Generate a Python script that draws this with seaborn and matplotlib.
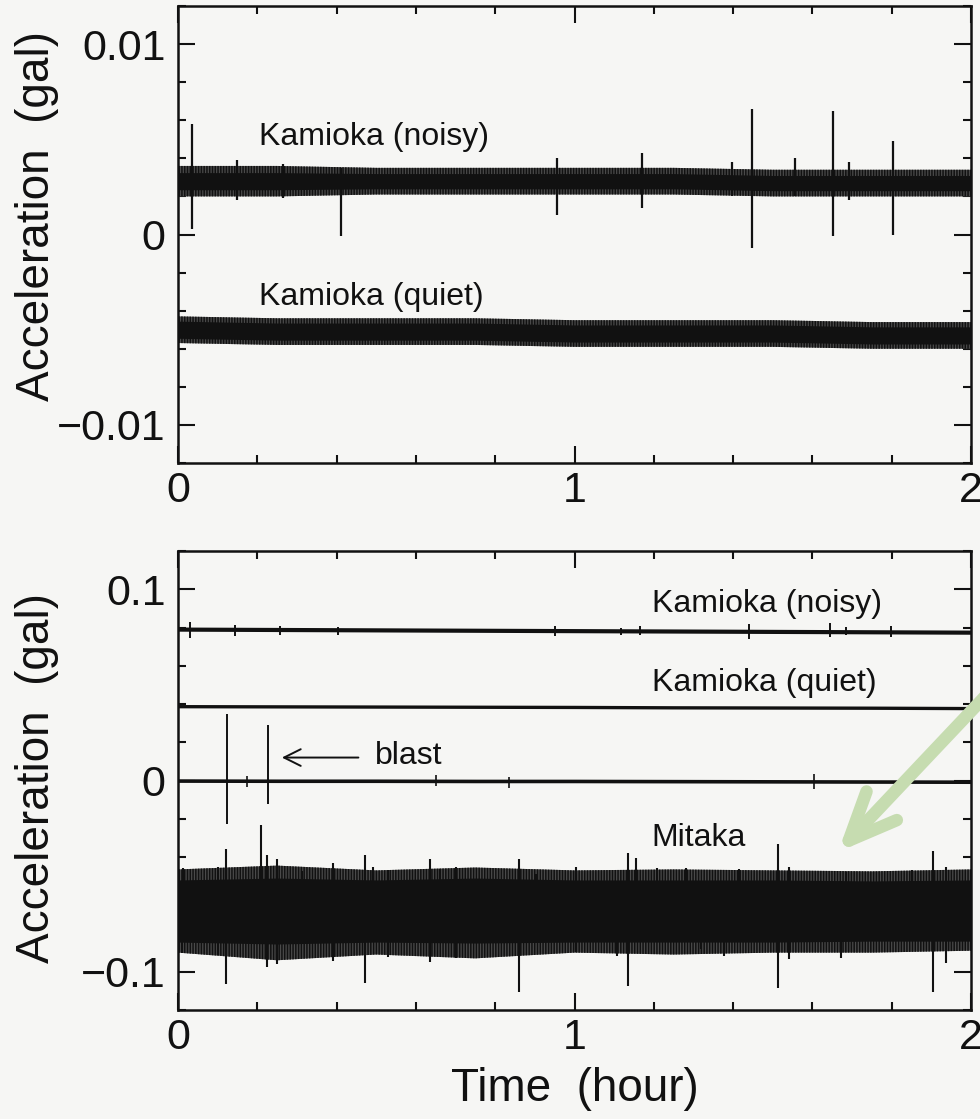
import numpy as np
import pandas as pd
import matplotlib
matplotlib.use("Agg")
import matplotlib.pyplot as plt
from matplotlib.ticker import MultipleLocator
import seaborn as sns

# ---------------- data ----------------
t_knots = [0.0, 0.25, 0.5, 0.75, 1.0, 1.25, 1.5, 1.75, 2.0]

# top panel: Kamioka (noisy) band
top_noisy_center = [0.0028, 0.0028, 0.0028, 0.0028, 0.0028, 0.0028, 0.0027, 0.0027, 0.0027]
top_noisy_inner = [0.00045, 0.00045, 0.0004, 0.0004, 0.0004, 0.0004, 0.0004, 0.0004, 0.0004]
top_noisy_outer = [0.0008, 0.0008, 0.0007, 0.0007, 0.0007, 0.0007, 0.0007, 0.0007, 0.0007]
top_noisy_spike_t = [0.035, 0.15, 0.265, 0.41, 0.955, 1.171, 1.398, 1.448, 1.557, 1.652, 1.693, 1.803]
top_noisy_spike_lo = [0.0003, 0.0018, 0.0019, -0.0001, 0.0010, 0.0014, 0.0020, -0.0007, 0.0020, -0.0001, 0.0018, 0.0000]
top_noisy_spike_hi = [0.0058, 0.0039, 0.0037, 0.0035, 0.0040, 0.0043, 0.0038, 0.0066, 0.0040, 0.0065, 0.0038, 0.0049]

# top panel: Kamioka (quiet) band
top_quiet_center = [-0.0050, -0.0051, -0.0051, -0.0051, -0.0052, -0.0052, -0.0052, -0.0053, -0.0053]
top_quiet_inner = [0.00045] * 9
top_quiet_outer = [0.0007] * 9

# bottom panel: thin traces
bot_noisy_level = [0.0789, 0.0787, 0.0785, 0.0783, 0.0781, 0.0779, 0.0777, 0.0775, 0.0773]
bot_quiet_level = [0.0386, 0.0385, 0.0384, 0.0383, 0.0382, 0.0380, 0.0379, 0.0378, 0.0376]
bot_zero_level = [-0.0003, -0.0004, -0.0004, -0.0005, -0.0005, -0.0006, -0.0007, -0.0008, -0.0009]
bot_noisy_spike_t = [0.03, 0.144, 0.257, 0.403, 0.95, 1.118, 1.164, 1.441, 1.645, 1.685, 1.798]
bot_noisy_spike_lo = [0.0745, 0.0755, 0.0760, 0.0760, 0.0755, 0.0760, 0.0760, 0.0740, 0.0750, 0.0760, 0.0750]
bot_noisy_spike_hi = [0.0830, 0.0815, 0.0810, 0.0805, 0.0810, 0.0800, 0.0810, 0.0820, 0.0825, 0.0805, 0.0810]
bot_zero_spike_t = [0.174, 0.65, 0.834, 1.604]
bot_zero_spike_lo = [-0.0035, -0.0030, -0.0040, -0.0045]
bot_zero_spike_hi = [0.0025, 0.0030, 0.0020, 0.0035]
blast_t = [0.123, 0.227]
blast_lo = [-0.023, -0.0125]
blast_hi = [0.035, 0.029]

# bottom panel: Mitaka band
mitaka_inner_hi = [-0.0520, -0.0510, -0.0520, -0.0510, -0.0520, -0.0520, -0.0520, -0.0525, -0.0520]
mitaka_inner_lo = [-0.0845, -0.0855, -0.0845, -0.0850, -0.0845, -0.0845, -0.0845, -0.0840, -0.0840]
mitaka_outer_hi = [-0.0465, -0.0445, -0.0470, -0.0455, -0.0470, -0.0465, -0.0470, -0.0475, -0.0465]
mitaka_outer_lo = [-0.0900, -0.0940, -0.0910, -0.0930, -0.0900, -0.0910, -0.0900, -0.0900, -0.0890]
mitaka_spike_t = [0.010, 0.013, 0.101, 0.121, 0.209, 0.224, 0.249, 0.312, 0.390, 0.471, 0.491, 0.529,
                  0.635, 0.660, 0.700, 0.861, 0.904, 1.005, 1.108, 1.136, 1.156, 1.207, 1.280, 1.320,
                  1.378, 1.416, 1.514, 1.542, 1.673, 1.685, 1.851, 1.904, 1.937]
mitaka_spike_lo = [-0.0900, -0.0840, -0.0914, -0.1065, -0.0840, -0.0977, -0.0960, -0.0840, -0.0945, -0.1060, -0.0840, -0.0924,
                   -0.0950, -0.0840, -0.0930, -0.1107, -0.0840, -0.0898, -0.0920, -0.1076, -0.0840, -0.0840, -0.0840, -0.0880,
                   -0.0920, -0.0840, -0.1086, -0.0935, -0.0930, -0.0840, -0.0840, -0.1107, -0.0956]
mitaka_spike_hi = [-0.0525, -0.0460, -0.0454, -0.0360, -0.0235, -0.0390, -0.0410, -0.0475, -0.0433, -0.0390, -0.0450, -0.0470,
                   -0.0410, -0.0465, -0.0454, -0.0410, -0.0490, -0.0450, -0.0525, -0.0380, -0.0407, -0.0460, -0.0460, -0.0525,
                   -0.0525, -0.0465, -0.0330, -0.0450, -0.0525, -0.0480, -0.0470, -0.0370, -0.0450]

x_ticks = [0, 1, 2]
x_ticklabels = ["0", "1", "2"]
top_yticks = [-0.01, 0.0, 0.01]
top_yticklabels = ["\u22120.01", "0", "0.01"]
bot_yticks = [-0.1, 0.0, 0.1]
bot_yticklabels = ["\u22120.1", "0", "0.1"]

# ---------------- style ----------------
sns.set_theme(style="ticks")
plt.rcParams["font.family"] = ["Liberation Sans", "DejaVu Sans"]
plt.rcParams["hatch.linewidth"] = 1.1
PAPER = "#f6f6f4"
INK = "#111111"
FRINGE = "#4a4a4a"

fig = plt.figure(figsize=(9.8, 11.19), dpi=100, facecolor=PAPER)
ax1 = fig.add_axes([178 / 980, 1 - 463 / 1119, 793 / 980, 457 / 1119])
ax2 = fig.add_axes([178 / 980, 1 - 1010 / 1119, 793 / 980, 459 / 1119])

t = np.array(t_knots)


def style_axis(ax, yticks, ylabels, ylim, yminor):
    ax.set_facecolor(PAPER)
    ax.set_xlim(0, 2)
    ax.set_ylim(*ylim)
    ax.set_xticks(x_ticks)
    ax.set_xticklabels(x_ticklabels)
    ax.set_yticks(yticks)
    ax.set_yticklabels(ylabels)
    ax.xaxis.set_minor_locator(MultipleLocator(0.2))
    ax.yaxis.set_minor_locator(MultipleLocator(yminor))
    ax.tick_params(which="both", direction="in", top=True, right=True, colors=INK,
                   width=1.5, labelsize=31)
    ax.tick_params(which="major", length=12)
    ax.tick_params(which="minor", length=6)
    ax.tick_params(axis="x", which="major", pad=6)
    ax.tick_params(axis="y", which="major", pad=9)
    for s in ax.spines.values():
        s.set_linewidth(1.8)
        s.set_color(INK)
    ax.set_ylabel("Acceleration  (gal)", fontsize=33, color=INK)


def band(ax, lo_outer, hi_outer, lo_inner, hi_inner):
    ax.fill_between(t, lo_outer, hi_outer, facecolor=FRINGE,
                    edgecolor=INK, hatch="||||||", linewidth=0, zorder=1)
    ax.fill_between(t, lo_inner, hi_inner, color=INK, linewidth=0, zorder=1.5)


# ---- top panel ----
style_axis(ax1, top_yticks, top_yticklabels, (-0.012, 0.012), 0.002)
for c_, i_, o_ in [(top_noisy_center, top_noisy_inner, top_noisy_outer),
                   (top_quiet_center, top_quiet_inner, top_quiet_outer)]:
    c = np.array(c_)
    band(ax1, c - np.array(o_), c + np.array(o_), c - np.array(i_), c + np.array(i_))
ax1.vlines(top_noisy_spike_t, top_noisy_spike_lo, top_noisy_spike_hi, color=INK, lw=1.6, zorder=2)
ax1.text(0.204, 0.0051, "Kamioka (noisy)", fontsize=23, color=INK, va="center", ha="left")
ax1.text(0.204, -0.0033, "Kamioka (quiet)", fontsize=23, color=INK, va="center", ha="left")
ax1.yaxis.set_label_coords(-0.15, 0.54)

# ---- bottom panel ----
style_axis(ax2, bot_yticks, bot_yticklabels, (-0.12, 0.12), 0.02)
lines_df = pd.DataFrame({
    "t": np.concatenate([t, t, t]),
    "acc": np.concatenate([bot_noisy_level, bot_quiet_level, bot_zero_level]),
    "trace": ["noisy"] * 9 + ["quiet"] * 9 + ["zero"] * 9,
})
sns.lineplot(data=lines_df, x="t", y="acc", hue="trace", size="trace",
             palette={"noisy": INK, "quiet": INK, "zero": INK},
             sizes={"noisy": 3.0, "quiet": 2.4, "zero": 2.6},
             legend=False, ax=ax2, zorder=2)
ax2.vlines(bot_noisy_spike_t, bot_noisy_spike_lo, bot_noisy_spike_hi, color=INK, lw=1.4, zorder=2)
ax2.vlines(bot_zero_spike_t, bot_zero_spike_lo, bot_zero_spike_hi, color=INK, lw=1.2, zorder=2)
ax2.vlines(blast_t, blast_lo, blast_hi, color=INK, lw=1.4, zorder=2)

band(ax2, mitaka_outer_lo, mitaka_outer_hi, mitaka_inner_lo, mitaka_inner_hi)
ax2.vlines(mitaka_spike_t, mitaka_spike_lo, mitaka_spike_hi, color=INK, lw=1.5, zorder=2)

ax2.text(1.196, 0.0924, "Kamioka (noisy)", fontsize=23, color=INK, va="center", ha="left")
ax2.text(1.196, 0.0510, "Kamioka (quiet)", fontsize=23, color=INK, va="center", ha="left")
ax2.text(0.496, 0.0130, "blast", fontsize=23, color=INK, va="center", ha="left")
ax2.text(1.194, -0.0300, "Mitaka", fontsize=23, color=INK, va="center", ha="left")
ax2.annotate("", xy=(0.262, 0.012), xytext=(0.455, 0.012),
             arrowprops=dict(arrowstyle="->,head_length=0.6,head_width=0.3", lw=1.4, color=INK,
                             mutation_scale=20, shrinkA=0, shrinkB=0))
ax2.set_xlabel("Time  (hour)", fontsize=33, color=INK)
ax2.yaxis.set_label_coords(-0.15, 0.505)
ax2.xaxis.set_label_coords(0.5, -0.125)

# light green highlight arrow drawn on the scan
ax2.annotate("", xy=(838, 1119 - 852), xytext=(1010, 1119 - 670),
             xycoords="figure pixels", textcoords="figure pixels",
             arrowprops=dict(arrowstyle="->,head_length=1.15,head_width=0.5", lw=9,
                             color="#c6dcb0", mutation_scale=30, shrinkA=0, shrinkB=0,
                             capstyle="round", joinstyle="round"),
             annotation_clip=False)

fig.savefig("out.png", dpi=100, facecolor=PAPER)
